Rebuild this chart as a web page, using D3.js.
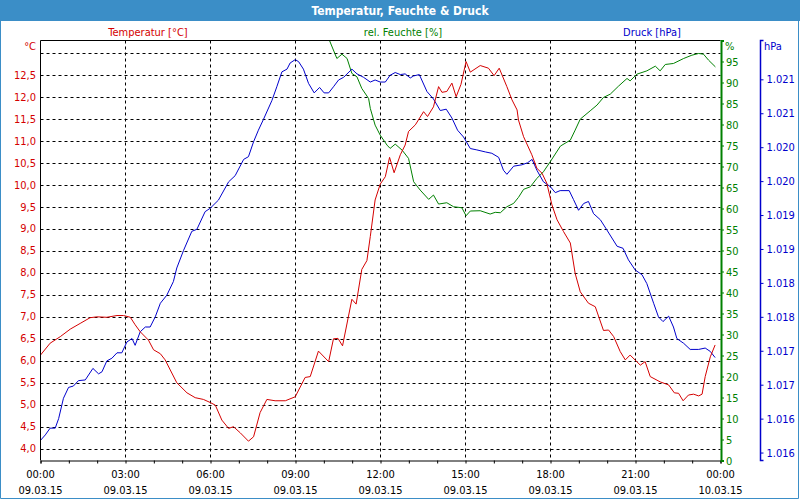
<!DOCTYPE html>
<html><head><meta charset="utf-8">
<script src="https://cdn.jsdelivr.net/npm/d3@7"></script>
<style>
html,body{margin:0;padding:0;background:#fff;}
svg{display:block;}
text{font-family:"DejaVu Sans Condensed","DejaVu Sans","Liberation Sans",sans-serif;font-size:11px;}
</style></head>
<body>
<svg id="chart" width="800" height="500"></svg>
<script>
// ---------- data ----------
const chartTitle = "Temperatur, Feuchte & Druck";
const seriesNames = ["Temperatur [°C]", "rel. Feuchte [%]", "Druck [hPa]"];
const unitLabels = ["°C", "%", "hPa"];
const timeTicks = [0, 3, 6, 9, 12, 15, 18, 21, 24];
const timeLabels = ["00:00","03:00","06:00","09:00","12:00","15:00","18:00","21:00","00:00"];
const dateLabels = ["09.03.15","09.03.15","09.03.15","09.03.15","09.03.15","09.03.15","09.03.15","09.03.15","10.03.15"];
const tempTicks = [4.0,4.5,5.0,5.5,6.0,6.5,7.0,7.5,8.0,8.5,9.0,9.5,10.0,10.5,11.0,11.5,12.0,12.5];
const tempGrid = [4.0,4.5,5.0,5.5,6.0,6.5,7.0,7.5,8.0,8.5,9.0,9.5,10.0,10.5,11.0,11.5,12.0,12.5,13.0];
const humTicks = [0,5,10,15,20,25,30,35,40,45,50,55,60,65,70,75,80,85,90,95];
const pressTicks = [1021.0,1020.5,1020.0,1019.5,1019.0,1018.5,1018.0,1017.5,1017.0,1016.5,1016.0,1015.5];

// [hour, value]
const temperature = [[0,6.13],[0.34,6.40],[0.70,6.55],[1.05,6.72],[1.40,6.85],[1.75,6.98],[1.99,7.00],[2.34,6.99],[2.70,7.03],[2.93,7.03],[3.17,6.99],[3.34,6.82],[3.52,6.66],[3.81,6.47],[3.99,6.25],[4.23,6.16],[4.40,6.02],[4.58,5.79],[4.81,5.50],[5.17,5.27],[5.46,5.16],[5.75,5.12],[5.99,5.05],[6.17,4.99],[6.40,4.65],[6.64,4.46],[6.81,4.50],[7.05,4.36],[7.34,4.17],[7.52,4.27],[7.75,4.82],[7.99,5.12],[8.28,5.09],[8.64,5.09],[8.99,5.18],[9.34,5.62],[9.52,5.64],[9.81,6.22],[10.17,5.98],[10.34,6.50],[10.50,6.51],[10.66,6.34],[10.99,7.40],[11.14,7.29],[11.34,8.08],[11.52,8.28],[11.64,8.83],[11.81,9.66],[11.99,10.02],[12.17,10.19],[12.32,10.63],[12.48,10.28],[12.70,10.69],[12.87,10.91],[12.99,11.22],[13.23,11.37],[13.52,11.67],[13.66,11.56],[13.87,11.78],[14.05,12.24],[14.17,12.11],[14.34,12.13],[14.52,12.32],[14.67,12.01],[14.84,12.29],[15.02,12.81],[15.17,12.57],[15.52,12.72],[15.81,12.66],[16.01,12.49],[16.19,12.66],[16.46,12.24],[16.64,11.94],[16.82,11.71],[16.87,11.48],[17.05,11.10],[17.34,10.69],[17.52,10.38],[17.70,10.27],[17.87,10.04],[18.05,9.55],[18.23,9.21],[18.46,8.94],[18.70,8.68],[18.87,7.99],[19.05,7.57],[19.34,7.31],[19.58,7.23],[19.87,6.69],[20.05,6.70],[20.23,6.55],[20.46,6.21],[20.64,6.02],[20.81,6.13],[21.17,5.90],[21.34,5.98],[21.52,5.64],[21.87,5.52],[22.17,5.45],[22.37,5.27],[22.52,5.26],[22.68,5.09],[22.87,5.22],[23.05,5.24],[23.23,5.20],[23.35,5.24],[23.46,5.64],[23.64,6.09],[23.81,6.36]];

const humidity = [[0,100],[3,100],[6,100],[9,100],[10.0,100],[10.20,100],[10.46,95.72],[10.64,96.74],[10.82,95.72],[10.99,92.15],[11.17,91.34],[11.34,88.58],[11.58,86.20],[11.64,83.83],[11.81,79.85],[11.99,77.47],[12.23,75.09],[12.34,74.31],[12.52,75.33],[12.76,73.91],[12.99,71.93],[13.17,66.37],[13.40,64.39],[13.70,62.18],[13.87,63.20],[14.05,61.06],[14.34,61.37],[14.58,60.42],[14.87,60.18],[15.02,58.28],[15.17,59.40],[15.52,59.47],[15.87,58.68],[16.05,59.09],[16.23,58.99],[16.46,60.42],[16.70,61.23],[16.87,62.65],[17.05,64.56],[17.29,65.18],[17.52,67.17],[17.75,68.74],[17.99,71.12],[18.35,74.86],[18.70,76.28],[18.87,78.66],[19.05,81.28],[19.40,83.25],[19.64,84.61],[19.87,86.44],[20.11,87.23],[20.40,89.13],[20.70,90.96],[20.81,90.39],[21.05,91.98],[21.23,92.39],[21.40,92.77],[21.70,93.89],[21.87,92.77],[22.05,94.29],[22.34,94.53],[22.70,95.72],[22.99,96.50],[23.23,96.91],[23.40,96.74],[23.58,95.31],[23.82,93.72]];

const pressure = [[0,1015.68],[0.17,1015.76],[0.34,1015.86],[0.52,1015.86],[0.64,1016.00],[0.81,1016.30],[0.99,1016.46],[1.16,1016.48],[1.34,1016.56],[1.58,1016.57],[1.85,1016.74],[2.05,1016.66],[2.17,1016.69],[2.34,1016.85],[2.52,1016.89],[2.70,1016.97],[2.87,1016.97],[3.05,1017.13],[3.23,1017.18],[3.34,1017.08],[3.52,1017.28],[3.70,1017.35],[3.87,1017.35],[4.05,1017.50],[4.23,1017.70],[4.46,1017.82],[4.69,1018.02],[4.81,1018.22],[5.05,1018.48],[5.34,1018.76],[5.52,1018.79],[5.81,1019.05],[5.99,1019.10],[6.28,1019.22],[6.64,1019.49],[6.87,1019.58],[7.17,1019.82],[7.34,1019.86],[7.52,1020.08],[7.69,1020.25],[7.87,1020.41],[8.17,1020.69],[8.34,1020.89],[8.52,1021.11],[8.70,1021.15],[8.81,1021.24],[8.99,1021.29],[9.11,1021.26],[9.28,1021.15],[9.46,1020.94],[9.66,1020.80],[9.85,1020.88],[10.01,1020.80],[10.17,1020.80],[10.34,1020.89],[10.52,1020.99],[10.70,1021.03],[10.99,1021.15],[11.17,1021.08],[11.40,1021.03],[11.64,1020.96],[11.81,1020.99],[11.99,1020.96],[12.17,1020.96],[12.34,1021.06],[12.52,1021.10],[12.70,1021.07],[12.87,1021.08],[13.05,1021.02],[13.17,1021.05],[13.37,1021.07],[13.64,1020.82],[13.87,1020.71],[14.11,1020.54],[14.32,1020.56],[14.52,1020.43],[14.72,1020.25],[14.93,1020.15],[15.17,1019.98],[15.40,1019.96],[15.70,1019.93],[15.93,1019.91],[16.17,1019.85],[16.34,1019.66],[16.46,1019.60],[16.70,1019.72],[16.99,1019.74],[17.19,1019.77],[17.35,1019.82],[17.52,1019.66],[17.75,1019.49],[17.99,1019.42],[18.17,1019.33],[18.34,1019.36],[18.66,1019.36],[18.81,1019.23],[18.99,1019.07],[19.17,1019.17],[19.34,1019.20],[19.52,1019.02],[19.76,1018.93],[19.99,1018.78],[20.35,1018.54],[20.56,1018.51],[20.75,1018.34],[20.99,1018.19],[21.23,1018.12],[21.40,1017.99],[21.64,1017.70],[21.81,1017.50],[21.97,1017.43],[22.17,1017.51],[22.34,1017.35],[22.46,1017.18],[22.70,1017.11],[22.93,1017.02],[23.23,1017.02],[23.46,1017.04],[23.64,1016.99],[23.81,1016.90]];

// ---------- styles ----------
const RED = "#d40000", GREEN = "#008000", BLUE = "#0000cc", TITLEBG = "#3b8ec7";
const L = 40.5, R = 720.5, T = 40.5, B = 460.5;

const svg = d3.select("#chart");

// title bar and frame
svg.append("rect").attr("x",0).attr("y",0).attr("width",800).attr("height",21).attr("fill",TITLEBG);
svg.append("path").attr("d","M0.5,21V498.5H798.5V21").attr("fill","none").attr("stroke",TITLEBG).attr("stroke-width",1);
svg.append("text").attr("x",400).attr("y",10.5).attr("text-anchor","middle").attr("dominant-baseline","central")
  .attr("fill","#fff").attr("font-weight","bold").style("font-size","12px").text(chartTitle);

// scales
const x = d3.scaleLinear().domain([0,24]).range([L,R]);
const yT = d3.scaleLinear().domain([3.73,13.29]).range([B,T]);
const yH = d3.scaleLinear().domain([0,100]).range([B,T]);
const yP = d3.scaleLinear().domain([1015.383,1021.572]).range([B,T]);

// legend titles
const legendX = [148, 403, 652], legendC = [RED, GREEN, BLUE];
seriesNames.forEach((n,i)=>{
  svg.append("text").attr("x",legendX[i]).attr("y",32).attr("text-anchor","middle")
    .attr("dominant-baseline","central").attr("fill",legendC[i]).text(n);
});

// grid
const grid = svg.append("g").attr("stroke","#000").attr("stroke-width",1).attr("stroke-dasharray","3,3");
tempGrid.forEach(v=>{
  const yy = Math.round(yT(v)) + 0.5;
  grid.append("line").attr("x1",L).attr("x2",R).attr("y1",yy).attr("y2",yy);
});
timeTicks.slice(1,-1).forEach(h=>{
  const xx = Math.round(x(h)-0.5) + 0.5;
  grid.append("line").attr("x1",xx).attr("x2",xx).attr("y1",T).attr("y2",B);
});

// clip
svg.append("clipPath").attr("id","plotclip").append("rect").attr("x",L).attr("y",T).attr("width",R-L).attr("height",B-T);
const plot = svg.append("g").attr("clip-path","url(#plotclip)");
const mk = (ys)=> d3.line().x(d=>x(d[0])).y(d=>ys(d[1]));
plot.append("path").datum(humidity).attr("d",mk(yH)).attr("fill","none").attr("stroke",GREEN).attr("stroke-width",1);
plot.append("path").datum(pressure).attr("d",mk(yP)).attr("fill","none").attr("stroke",BLUE).attr("stroke-width",1);
plot.append("path").datum(temperature).attr("d",mk(yT)).attr("fill","none").attr("stroke",RED).attr("stroke-width",1);

// frame (left, top, bottom)
svg.append("path").attr("d",`M${L},${B}V${T}H${R}`).attr("fill","none").attr("stroke","#000");

// bottom axis
const xAxis = d3.axisBottom(x).tickValues(d3.range(0,25,1)).tickSize(3).tickFormat("");
const gx = svg.append("g").attr("transform",`translate(0,${B})`).call(xAxis);
gx.select(".domain").attr("stroke","#000");
gx.selectAll(".tick line").attr("stroke","#000");
timeTicks.forEach((h,i)=>{
  svg.append("text").attr("x",x(h)).attr("y",474).attr("text-anchor","middle").attr("dominant-baseline","central").attr("fill","#000").text(timeLabels[i]);
  svg.append("text").attr("x",x(h)).attr("y",490).attr("text-anchor","middle").attr("dominant-baseline","central").attr("fill","#000").text(dateLabels[i]);
});

// left temperature axis labels
const fmtDE = d3.formatLocale({decimal:",",thousands:".",grouping:[3],currency:["","€"]});
const fT = fmtDE.format(".1f");
tempTicks.forEach(v=>{
  svg.append("text").attr("x",36).attr("y",yT(v)).attr("text-anchor","end").attr("dominant-baseline","central").attr("fill",RED).text(fT(v));
});
svg.append("text").attr("x",36).attr("y",46).attr("text-anchor","end").attr("dominant-baseline","central").attr("fill",RED).text(unitLabels[0]);

// right humidity axis
const hAxis = d3.axisRight(yH).tickValues(humTicks).tickSize(3).tickPadding(2).tickFormat(d3.format("d"));
const gh = svg.append("g").attr("transform",`translate(${R+0.5},0)`).call(hAxis);
gh.select(".domain").attr("stroke",GREEN).attr("stroke-width",2);
gh.selectAll(".tick line").attr("stroke",GREEN);
gh.selectAll(".tick text").attr("fill",GREEN).style("font-size","11px").attr("font-family",null);
svg.append("text").attr("x",725).attr("y",46).attr("dominant-baseline","central").attr("fill",GREEN).text(unitLabels[1]);

// pressure axis
const fP = fmtDE.format(",.0f");
const pAxis = d3.axisRight(yP).tickValues(pressTicks).tickSize(3).tickPadding(3).tickFormat(fP);
const gp = svg.append("g").attr("transform",`translate(760.5,0)`).call(pAxis);
gp.select(".domain").attr("stroke",BLUE).attr("stroke-width",1.5).attr("d",`M3,${T}H0V${B}H3`);
gp.selectAll(".tick line").attr("stroke",BLUE);
gp.selectAll(".tick text").attr("fill",BLUE).style("font-size","11px").attr("font-family",null);
svg.append("text").attr("x",764).attr("y",46).attr("dominant-baseline","central").attr("fill",BLUE).text(unitLabels[2]);
</script>
</body></html>
